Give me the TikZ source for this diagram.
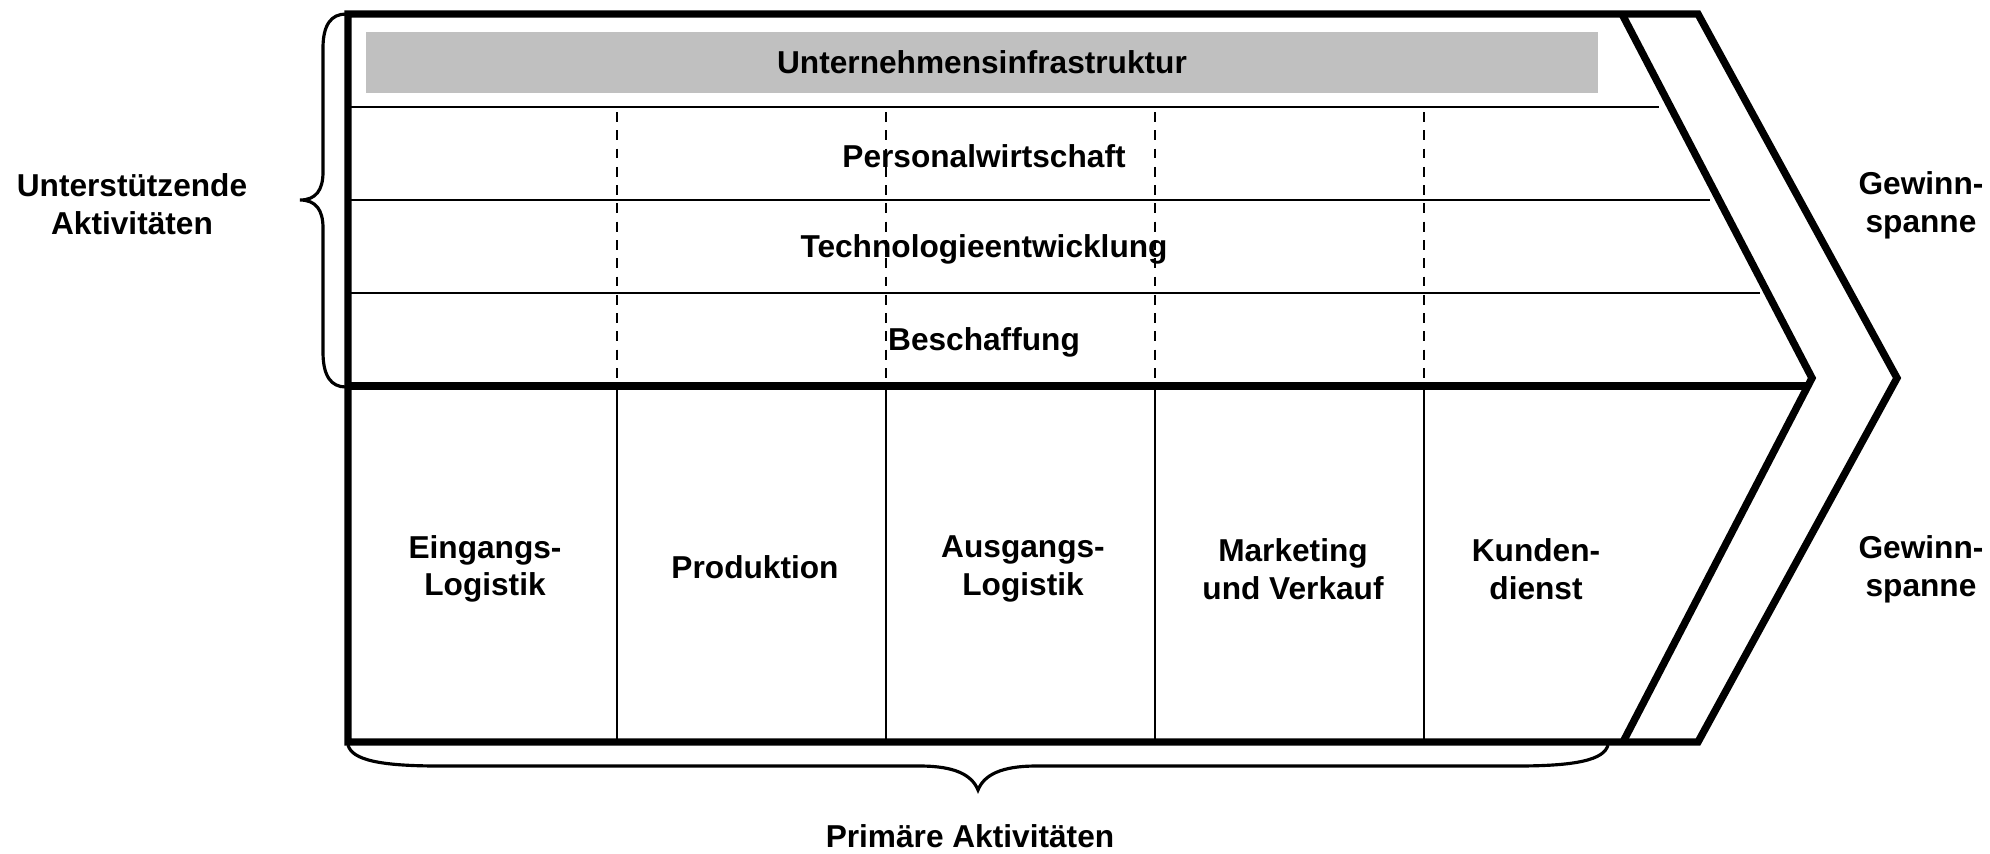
\documentclass[tikz,border=0pt]{standalone}
\usepackage{fontspec}
\setmainfont{Liberation Sans}
\definecolor{infragray}{RGB}{192,192,192}
\begin{document}
\begin{tikzpicture}[x=0.01cm,y=-0.01cm,
  lab/.style={font=\bfseries\fontsize{9}{10.7}\selectfont, align=center, inner sep=0pt},
  frameline/.style={line width=2.1pt, line join=miter},
  sepline/.style={line width=0.6pt},
  dashsep/.style={line width=0.6pt, dash pattern=on 2.8pt off 2.4pt},
  bracestyle/.style={line width=0.9pt}]
\useasboundingbox (0,0) rectangle (1990,853);

% corner coordinates
\coordinate (TL) at (348,14);
\coordinate (TR) at (1698,14);
\coordinate (TIP) at (1897,378);
\coordinate (BR) at (1698,742);
\coordinate (BL) at (348,742);
\coordinate (ITop) at (1622,14);
\coordinate (ITip) at (1812,378);
\coordinate (IBot) at (1623,742);

% gray infrastructure band
\fill[infragray] (366,32) rectangle (1598,93);

% thin row separators
\coordinate (r1a) at (348,107); \coordinate (r1b) at (1659,107);
\coordinate (r2a) at (348,200); \coordinate (r2b) at (1710,200);
\coordinate (r3a) at (348,293); \coordinate (r3b) at (1760,293);
\draw[sepline] (r1a) -- (r1b);
\draw[sepline] (r2a) -- (r2b);
\draw[sepline] (r3a) -- (r3b);

% column separators
\foreach \x/\n in {617/a,886/b,1155/c,1424/d}{
  \coordinate (dt\n) at (\x,112);
  \coordinate (dm\n) at (\x,386);
  \coordinate (db\n) at (\x,742);
  \draw[dashsep] (dt\n) -- (dm\n);
  \draw[sepline] (dm\n) -- (db\n);
}

% outer frame and chevrons
\draw[frameline] (TL) -- (TR) -- (TIP) -- (BR) -- (BL) -- cycle;
\draw[frameline] (ITop) -- (ITip) -- (IBot);
\coordinate (ML) at (348,386);
\coordinate (MR) at (1808,386);
\draw[frameline] (ML) -- (MR);

% braces
\draw[bracestyle] (346,14) .. controls (331,14) and (323,25) .. (323,48)
  -- (323,172) .. controls (323,190) and (316,200) .. (300,200)
  .. controls (316,200) and (323,210) .. (323,228)
  -- (323,352) .. controls (323,376) and (331,387) .. (346,387);
\draw[bracestyle] (348,745) .. controls (352,760) and (380,766) .. (440,766)
  -- (920,766) .. controls (955,766) and (972,775) .. (978,790)
  .. controls (984,775) and (1001,766) .. (1036,766)
  -- (1516,766) .. controls (1576,766) and (1604,760) .. (1608,745);

% support activity labels
\node[lab] (infra) at (982,62) {Unternehmensinfrastruktur};
\node[lab] (personal) at (984,156) {Personalwirtschaft};
\node[lab] (tech) at (984,249) {Technologieentwicklung};
\node[lab] (besch) at (984,342) {Beschaffung};

% primary activity labels
\node[lab] (ein) at (485,569) {Eingangs-\\Logistik};
\node[lab] (prod) at (755,567) {Produktion};
\node[lab] (aus) at (1023,569) {Ausgangs-\\Logistik};
\node[lab] (mark) at (1293,569) {Marketing\\und Verkauf};
\node[lab] (kund) at (1536,569) {Kunden-\\dienst};

% side labels
\node[lab] (gw1) at (1921,205) {Gewinn-\\spanne};
\node[lab] (gw2) at (1921,569) {Gewinn-\\spanne};
\node[lab] (unter) at (132,204) {Unterstützende\\Aktivitäten};
\node[lab] (prim) at (970,836) {Primäre Aktivitäten};
\end{tikzpicture}
\end{document}
